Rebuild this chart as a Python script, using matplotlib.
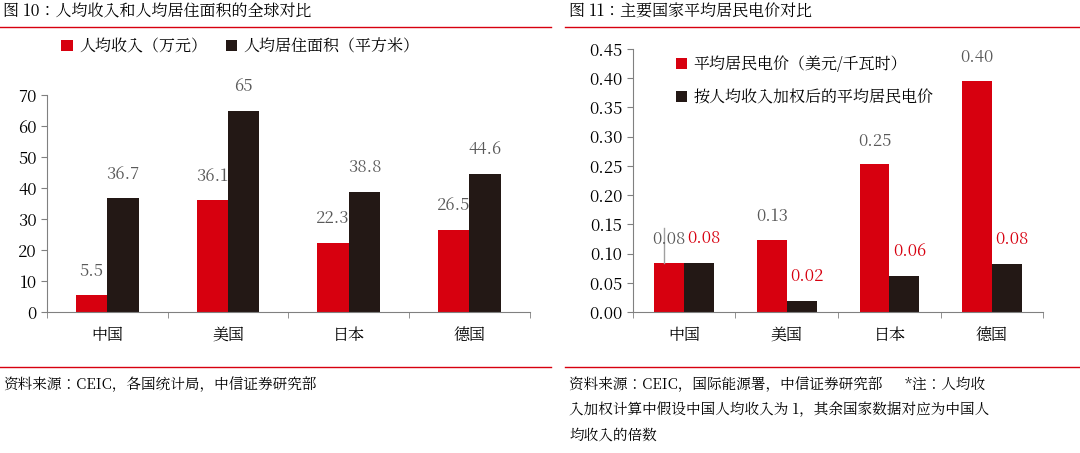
import matplotlib.pyplot as plt
from matplotlib import font_manager
from matplotlib.lines import Line2D

# pick whatever CJK family is actually registered
cjk = [f.name for f in font_manager.fontManager.ttflist if "CJK" in f.name]
family = "Noto Sans CJK SC" if "Noto Sans CJK SC" in cjk else (cjk[0] if cjk else "DejaVu Sans")
plt.rcParams["font.family"] = [family, "DejaVu Sans"]

countries = ["中国", "美国", "日本", "德国"]
income = [5.5, 36.1, 22.3, 26.5]
area = [36.7, 65, 38.8, 44.6]
price = [0.084, 0.124, 0.253, 0.395]
price_weighted = [0.084, 0.019, 0.062, 0.082]
price_labels = ["0.08", "0.13", "0.25", "0.40"]
weighted_labels = ["0.08", "0.02", "0.06", "0.08"]

RED = "#d7000f"
DARK = "#231815"
GREY = "#595959"

fig = plt.figure(figsize=(10.8, 4.53), dpi=100)

# titles and rules
fig.text(0.003, 0.975, "图 10：人均收入和人均居住面积的全球对比", fontsize=11.5, va="center")
fig.text(0.527, 0.975, "图 11：主要国家平均居民电价对比", fontsize=11.5, va="center")
for x0, x1 in [(0.0, 0.51), (0.523, 1.0)]:
    fig.add_artist(Line2D([x0, x1], [0.94, 0.94], color=RED, lw=1))
    fig.add_artist(Line2D([x0, x1], [0.19, 0.19], color=RED, lw=1))
fig.text(0.003, 0.15, "资料来源：CEIC，各国统计局，中信证券研究部", fontsize=10.5, va="center")
fig.text(0.527, 0.15, "资料来源：CEIC，国际能源署，中信证券研究部      *注：人均收", fontsize=10.5, va="center")
fig.text(0.527, 0.095, "入加权计算中假设中国人均收入为 1，其余国家数据对应为中国人", fontsize=10.5, va="center")
fig.text(0.527, 0.04, "均收入的倍数", fontsize=10.5, va="center")

x = range(len(countries))
w1 = 0.26
w = 0.29

# left chart
ax1 = fig.add_axes([0.0435, 0.311, 0.447, 0.479])
ax1.bar([i - w1 / 2 for i in x], income, width=w1, color=RED, label="人均收入（万元）")
ax1.bar([i + w1 / 2 for i in x], area, width=w1, color=DARK, label="人均居住面积（平方米）")
for i in x:
    ax1.text(i - w1 / 2, income[i] + 5, f"{income[i]:g}", ha="center", va="bottom", color=GREY, fontsize=12)
    ax1.text(i + w1 / 2, area[i] + 5, f"{area[i]:g}", ha="center", va="bottom", color=GREY, fontsize=12)
ax1.set_ylim(0, 70)
ax1.set_xlim(-0.5, 3.5)
ax1.set_yticks(range(0, 71, 10))
ax1.set_xticks(list(x))
ax1.set_xticklabels(countries)
ax1.legend(loc="upper left", bbox_to_anchor=(0.0, 1.33), ncol=2, frameon=False,
           fontsize=11.5, handlelength=0.7, handleheight=0.7, columnspacing=1.2, handletextpad=0.4)

# right chart
ax2 = fig.add_axes([0.586, 0.311, 0.38, 0.581])
ax2.bar([i - w / 2 for i in x], price, width=w, color=RED, label="平均居民电价（美元/千瓦时）")
ax2.bar([i + w / 2 for i in x], price_weighted, width=w, color=DARK, label="按人均收入加权后的平均居民电价")
for i in x:
    ax2.text(i - w / 2, price[i] + 0.025, price_labels[i], ha="center", va="bottom", color=GREY, fontsize=12)
    ax2.text(i + w / 2 + 0.05, price_weighted[i] + 0.027, weighted_labels[i], ha="center", va="bottom", color=RED, fontsize=12)
ax2.plot([-w / 2 - 0.05, -w / 2 - 0.05], [price[0], 0.143], color="#a0a0a0", lw=1)
ax2.set_ylim(0, 0.45)
ax2.set_xlim(-0.5, 3.5)
ax2.set_yticks([i * 0.05 for i in range(10)])
ax2.set_yticklabels([f"{i * 0.05:.2f}" for i in range(10)])
ax2.set_xticks(list(x))
ax2.set_xticklabels(countries)
ax2.legend(loc="upper left", bbox_to_anchor=(0.07, 1.03), frameon=False, fontsize=11.5,
           handlelength=0.7, handleheight=0.7, handletextpad=0.4, labelspacing=1.0)

for ax in (ax1, ax2):
    ax.spines["top"].set_visible(False)
    ax.spines["right"].set_visible(False)
    ax.spines["left"].set_color("#808080")
    ax.spines["bottom"].set_color("#808080")
    ax.tick_params(axis="y", labelsize=12, length=4, color="#808080")
    ax.tick_params(axis="x", labelsize=11.5, length=0, pad=10)
    ax.set_xticks([-0.5, 0.5, 1.5, 2.5, 3.5], minor=True)
    ax.tick_params(axis="x", which="minor", length=4, color="#808080")

fig.savefig("out.png", dpi=100)
